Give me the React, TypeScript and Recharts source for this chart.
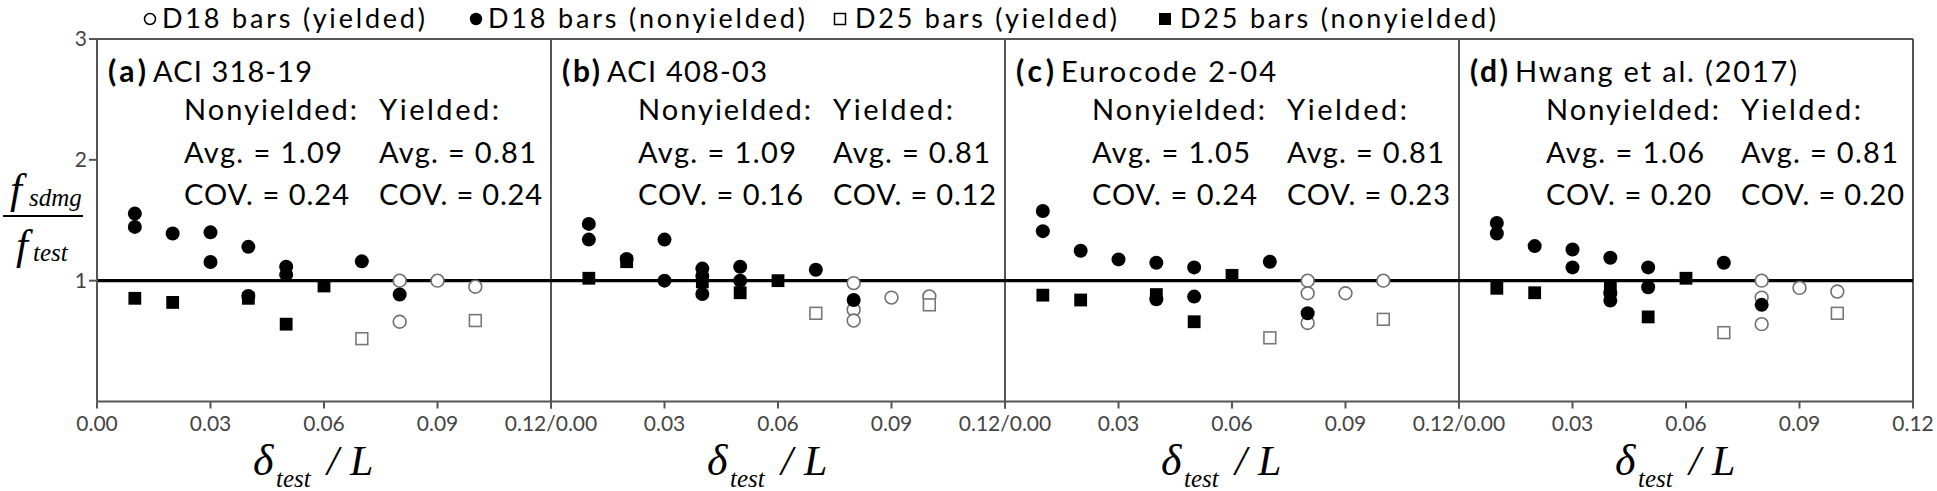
import { ScatterChart, Scatter, XAxis, YAxis, ReferenceLine } from "recharts";

// x = drift ratio (delta_test / L), y = f_sdmg / f_test
type Pt = [number, number];

// (a) ACI 318-19
const aciD18Yielded: Pt[] = [[0.08, 1.0], [0.08, 0.66], [0.09, 1.0], [0.1, 0.95]];
const aciD18Nonyielded: Pt[] = [
  [0.01, 1.555], [0.01, 1.445], [0.02, 1.39], [0.03, 1.4], [0.03, 1.154], [0.04, 1.28],
  [0.04, 0.874], [0.05, 1.115], [0.05, 1.05], [0.07, 1.16], [0.08, 0.885],
];
const aciD25Yielded: Pt[] = [[0.07, 0.52], [0.1, 0.67]];
const aciD25Nonyielded: Pt[] = [[0.01, 0.854], [0.02, 0.82], [0.04, 0.854], [0.05, 0.64], [0.06, 0.956]];

// (b) ACI 408-03
const a408D18Yielded: Pt[] = [[0.08, 0.98], [0.08, 0.76], [0.08, 0.67], [0.09, 0.86], [0.1, 0.87]];
const a408D18Nonyielded: Pt[] = [
  [0.01, 1.47], [0.01, 1.34], [0.02, 1.18], [0.03, 1.34], [0.03, 1.0], [0.04, 1.1],
  [0.04, 1.04], [0.04, 0.89], [0.05, 1.115], [0.05, 1.0], [0.07, 1.09], [0.08, 0.84],
];
const a408D25Yielded: Pt[] = [[0.07, 0.73], [0.1, 0.8]];
const a408D25Nonyielded: Pt[] = [[0.01, 1.02], [0.02, 1.157], [0.04, 0.99], [0.05, 0.9], [0.06, 1.0]];

// (c) Eurocode 2-04
const ecD18Yielded: Pt[] = [[0.08, 1.0], [0.08, 0.896], [0.08, 0.65], [0.09, 0.896], [0.1, 1.0]];
const ecD18Nonyielded: Pt[] = [
  [0.01, 1.577], [0.01, 1.41], [0.02, 1.247], [0.03, 1.176], [0.04, 1.148], [0.04, 0.846],
  [0.05, 1.11], [0.05, 0.868], [0.07, 1.157], [0.08, 0.73],
];
const ecD25Yielded: Pt[] = [[0.07, 0.527], [0.1, 0.68]];
const ecD25Nonyielded: Pt[] = [[0.01, 0.88], [0.02, 0.84], [0.04, 0.885], [0.05, 0.66], [0.06, 1.044]];

// (d) Hwang et al. (2017)
const hwD18Yielded: Pt[] = [[0.08, 1.0], [0.08, 0.86], [0.08, 0.64], [0.09, 0.94], [0.1, 0.91]];
const hwD18Nonyielded: Pt[] = [
  [0.01, 1.478], [0.01, 1.39], [0.02, 1.286], [0.03, 1.258], [0.03, 1.11], [0.04, 1.19],
  [0.04, 0.896], [0.04, 0.835], [0.05, 1.11], [0.05, 0.945], [0.07, 1.148], [0.08, 0.8],
];
const hwD25Yielded: Pt[] = [[0.07, 0.57], [0.1, 0.73]];
const hwD25Nonyielded: Pt[] = [[0.01, 0.937], [0.02, 0.9], [0.04, 0.937], [0.05, 0.7], [0.06, 1.02]];

const panelLetters = ["(a)", "(b)", "(c)", "(d)"];
const panelNames = ["ACI 318-19", "ACI 408-03", "Eurocode 2-04", "Hwang et al. (2017)"];
const nonyieldedAvg = ["1.09", "1.09", "1.05", "1.06"];
const nonyieldedCov = ["0.24", "0.16", "0.24", "0.20"];
const yieldedAvg = ["0.81", "0.81", "0.81", "0.81"];
const yieldedCov = ["0.24", "0.12", "0.23", "0.20"];

const xTicks = [0, 0.03, 0.06, 0.09, 0.12];
const yTicks = [1, 2, 3];
const legendLabels = ["D18 bars (yielded)", "D18 bars (nonyielded)", "D25 bars (yielded)", "D25 bars (nonyielded)"];

const panels = [
  [aciD18Yielded, aciD18Nonyielded, aciD25Yielded, aciD25Nonyielded],
  [a408D18Yielded, a408D18Nonyielded, a408D25Yielded, a408D25Nonyielded],
  [ecD18Yielded, ecD18Nonyielded, ecD25Yielded, ecD25Nonyielded],
  [hwD18Yielded, hwD18Nonyielded, hwD25Yielded, hwD25Nonyielded],
];

const toPts = (arr: Pt[]) => arr.map(([x, y]) => ({ x, y }));

const PLOT_LEFT = 97;
const PANEL_W = 454;
const PLOT_TOP = 39;
const PLOT_BOTTOM = 401.5;
const H = 491;
const SANS = "Lato, 'Open Sans', sans-serif";
const SERIF = "'Liberation Serif', 'DejaVu Serif', serif";
const FRAME = "#555";

const OpenCircle = (p: any) => (
  <circle cx={p.cx} cy={p.cy} r={6.4} fill="#fff" stroke="#6f6f6f" strokeWidth={1.6} />
);
const FilledCircle = (p: any) => <circle cx={p.cx} cy={p.cy} r={7} fill="#000" />;
const OpenSquare = (p: any) => (
  <rect x={p.cx - 5.9} y={p.cy - 5.9} width={11.8} height={11.8} fill="#fff" stroke="#777" strokeWidth={1.6} />
);
const FilledSquare = (p: any) => <rect x={p.cx - 6.4} y={p.cy - 6.4} width={12.8} height={12.8} fill="#000" />;

const Panel = ({ idx }: { idx: number }) => {
  const [d18y, d18n, d25y, d25n] = panels[idx];
  const panelLeft = PLOT_LEFT + idx * PANEL_W;
  const ml = idx === 0 ? PLOT_LEFT : 60;
  const mr = 60;
  const yW = 60;
  const fmt = (v: number) => {
    if (v === 0) return idx === 0 ? "0.00" : "";
    if (v === 0.12) return idx === 3 ? "0.12" : "0.12/0.00";
    return v.toFixed(2);
  };
  return (
    <div style={{ position: "absolute", left: panelLeft - ml, top: 0 }}>
      <ScatterChart
        width={ml + PANEL_W + mr}
        height={H}
        margin={{ top: PLOT_TOP, right: mr, bottom: H - PLOT_BOTTOM - 30, left: idx === 0 ? ml - yW : ml }}
      >
        <XAxis
          type="number"
          dataKey="x"
          domain={[0, 0.12]}
          ticks={xTicks}
          interval={0}
          tickFormatter={fmt}
          height={30}
          stroke={FRAME}
          strokeWidth={2}
          tickSize={7}
          tickMargin={8}
          tick={{ fill: "#444", fontSize: 21, fontFamily: SANS }}
        />
        <YAxis
          type="number"
          dataKey="y"
          domain={[0, 3]}
          ticks={yTicks}
          interval={0}
          hide={idx !== 0}
          width={yW}
          stroke={FRAME}
          strokeWidth={2}
          tickSize={8}
          tickMargin={2}
          tick={{ fill: "#444", fontSize: 21, fontFamily: SANS }}
        />
        <ReferenceLine y={3} stroke={FRAME} strokeWidth={2} />
        <ReferenceLine x={0.12} stroke={FRAME} strokeWidth={2} />
        <ReferenceLine y={1} stroke="#000" strokeWidth={3.2} />
        <Scatter data={toPts(d18y)} shape={OpenCircle} isAnimationActive={false} />
        <Scatter data={toPts(d25y)} shape={OpenSquare} isAnimationActive={false} />
        <Scatter data={toPts(d25n)} shape={FilledSquare} isAnimationActive={false} />
        <Scatter data={toPts(d18n)} shape={FilledCircle} isAnimationActive={false} />
      </ScatterChart>
    </div>
  );
};

const T = ({ x, y, w, size = 29, weight = 400, children }: any) => (
  <text
    x={x}
    y={y}
    fontFamily={SANS}
    fontSize={size}
    fontWeight={weight}
    fill="#000"
    textLength={w}
    lengthAdjust="spacing"
  >
    {children}
  </text>
);

// legend layout: marker x, text start, text width
const legendMarkX = [150, 476, 840, 1165];
const legendTextX = [162, 488, 855, 1180];
const legendTextW = [263, 317, 262, 316];

const Overlay = () => (
  <svg
    width={1937}
    height={H}
    style={{ position: "absolute", left: 0, top: 0, pointerEvents: "none" }}
  >
    {/* legend */}
    <circle cx={legendMarkX[0]} cy={19} r={5.5} fill="#fff" stroke="#000" strokeWidth={1.5} />
    <circle cx={legendMarkX[1]} cy={19} r={6.2} fill="#000" />
    <rect x={legendMarkX[2] - 5.5} y={13.5} width={11} height={11} fill="#fff" stroke="#000" strokeWidth={1.5} />
    <rect x={legendMarkX[3] - 6} y={13} width={12} height={12} fill="#000" />
    {legendLabels.map((s, i) => (
      <T key={s} x={legendTextX[i]} y={28} w={legendTextW[i]} size={27}>
        {s}
      </T>
    ))}

    {/* panel annotations */}
    {panelNames.map((name, i) => {
      const L = PLOT_LEFT + i * PANEL_W;
      const nameW = [159, 160, 215, 282][i];
      return (
        <g key={name}>
          <T x={L + 11} y={82} w={38} weight={700} size={30}>
            {panelLetters[i]}
          </T>
          <T x={L + 56} y={82} w={nameW}>
            {name}
          </T>
          <T x={L + 87} y={120} w={173}>
            Nonyielded:
          </T>
          <T x={L + 282} y={120} w={120}>
            Yielded:
          </T>
          <T x={L + 87} y={163} w={158}>
            {`Avg. = ${nonyieldedAvg[i]}`}
          </T>
          <T x={L + 282} y={163} w={157}>
            {`Avg. = ${yieldedAvg[i]}`}
          </T>
          <T x={L + 87} y={205} w={165}>
            {`COV. = ${nonyieldedCov[i]}`}
          </T>
          <T x={L + 282} y={205} w={163}>
            {`COV. = ${yieldedCov[i]}`}
          </T>
        </g>
      );
    })}

    {/* y label: f_sdmg / f_test */}
    <g fontFamily={SERIF} fontStyle="italic" fill="#000">
      <text x={10} y={203} fontSize={43}>f</text>
      <text x={29} y={206} fontSize={25}>sdmg</text>
      <line x1={3} x2={83} y1={216} y2={216} stroke="#000" strokeWidth={2} />
      <text x={16} y={259} fontSize={43}>f</text>
      <text x={33} y={261} fontSize={25}>test</text>
    </g>

    {/* x labels */}
    {panelNames.map((name, i) => {
      const c = PLOT_LEFT + i * PANEL_W + PANEL_W / 2;
      return (
        <g key={"xl" + name} fontFamily={SERIF} fontStyle="italic" fill="#000">
          <text x={c - 71} y={475} fontSize={44}>δ</text>
          <text x={c - 48} y={487} fontSize={25}>test</text>
          <text x={c + 3} y={475} fontSize={42}>/</text>
          <text x={c + 26} y={475} fontSize={42}>L</text>
        </g>
      );
    })}
  </svg>
);

export default function App() {
  return (
    <div style={{ position: "absolute", left: 0, top: 0, width: 1937, height: H, background: "#fff" }}>
      {[0, 1, 2, 3].map((i) => (
        <Panel key={i} idx={i} />
      ))}
      <Overlay />
    </div>
  );
}
